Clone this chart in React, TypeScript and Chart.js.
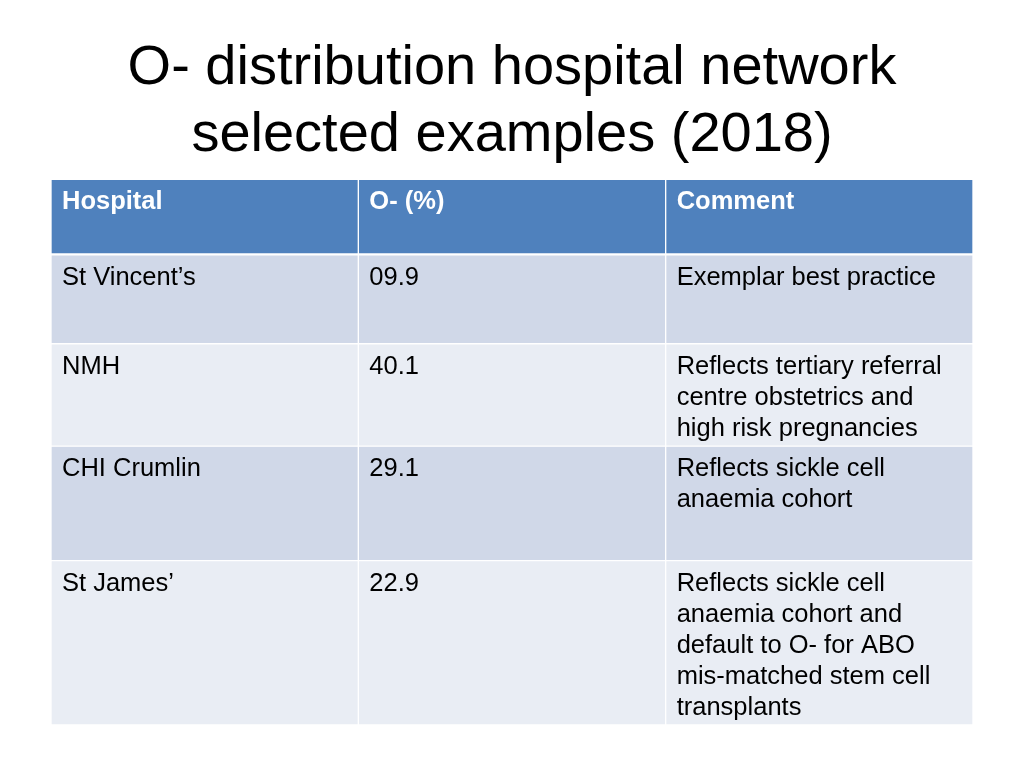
import React, { useEffect, useRef } from "react";
import { Chart, registerables } from "chart.js";

Chart.register(...registerables);

// ---- Data ----
const titleLines = ["O- distribution hospital network", "selected examples (2018)"];
const columns = ["Hospital", "O- (%)", "Comment"];
const hospitals = ["St Vincent\u2019s", "NMH", "CHI Crumlin", "St James\u2019"];
const oNegPercent = ["09.9", "40.1", "29.1", "22.9"];
const comments: string[][] = [
  ["Exemplar best practice"],
  ["Reflects tertiary referral", "centre obstetrics and", "high risk pregnancies"],
  ["Reflects sickle cell", "anaemia cohort"],
  ["Reflects sickle cell", "anaemia cohort and", "default to O- for ABO", "mis-matched stem cell", "transplants"],
];
// row boundaries along the (reversed) vertical value axis: header, then 4 rows
const rowEdges = [0, 75.5, 164.5, 267, 381.5, 546];

// ---- Styles ----
const HEADER_BG = "#4F81BD";
const ROW_BG = ["#D0D8E8", "#E9EDF4", "#D0D8E8", "#E9EDF4"];
const FONT = "'Liberation Sans', Arial, sans-serif";

export default function App() {
  const ref = useRef<HTMLCanvasElement | null>(null);

  useEffect(() => {
    if (!ref.current) return;
    document.body.style.margin = "0";

    const rowCount = rowEdges.length - 1;
    const cellText: string[][][] = [];
    cellText.push(columns.map((c) => [c]));
    for (let i = 0; i < hospitals.length; i++) {
      cellText.push([[hospitals[i]], [oNegPercent[i]], comments[i]]);
    }

    const datasets = [] as any[];
    for (let r = 0; r < rowCount; r++) {
      datasets.push({
        label: r === 0 ? "header" : hospitals[r - 1],
        data: columns.map(() => [rowEdges[r], rowEdges[r + 1]]),
        backgroundColor: r === 0 ? HEADER_BG : ROW_BG[r - 1],
        borderColor: "#FFFFFF",
        borderWidth: r === 0 ? { top: 1, bottom: 2, left: 1, right: 1 } : 1,
        borderSkipped: false,
        grouped: false,
        categoryPercentage: 1,
        barPercentage: 1,
      });
    }

    const textPlugin = {
      id: "cellText",
      afterDatasetsDraw(chart: any) {
        const ctx = chart.ctx;
        ctx.save();
        ctx.textBaseline = "alphabetic";
        ctx.textAlign = "left";
        for (let r = 0; r < rowCount; r++) {
          const meta = chart.getDatasetMeta(r);
          meta.data.forEach((bar: any, c: number) => {
            const left = bar.x - bar.width / 2;
            const top = Math.min(bar.y, bar.base);
            ctx.font = (r === 0 ? "bold " : "") + "25.5px " + FONT;
            ctx.fillStyle = r === 0 ? "#FFFFFF" : "#000000";
            const lines = cellText[r][c];
            lines.forEach((line: string, i: number) => {
              ctx.fillText(line, left + 11, top + 30 + i * 31);
            });
          });
        }
        ctx.restore();
      },
    };

    const chart = new Chart(ref.current, {
      type: "bar",
      data: { labels: columns, datasets },
      options: {
        animation: false,
        responsive: false,
        layout: { padding: { left: 51, right: 51, top: 0, bottom: 43 } },
        scales: {
          x: { type: "category", display: false, offset: true },
          y: { type: "linear", display: false, reverse: true, min: rowEdges[0], max: rowEdges[rowEdges.length - 1] },
        },
        plugins: {
          legend: { display: false },
          tooltip: { enabled: false },
          title: {
            display: true,
            text: titleLines,
            color: "#000000",
            font: { family: FONT, size: 56, weight: "normal", lineHeight: 1.2 },
            padding: { top: 35, bottom: 10 },
          },
        },
      },
      plugins: [textPlugin],
    });
    return () => chart.destroy();
  }, []);

  return (
    <div style={{ position: "absolute", left: 0, top: 0, width: 1024, height: 768 }}>
      <canvas ref={ref} width={1024} height={768} />
    </div>
  );
}
